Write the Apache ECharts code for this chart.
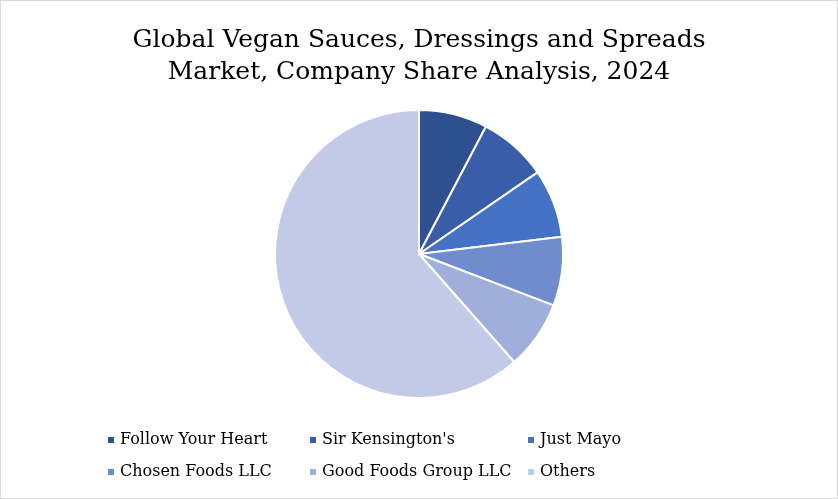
<!DOCTYPE html>
<html>
<head>
<meta charset="utf-8">
<script src="https://cdn.jsdelivr.net/npm/echarts@6/dist/echarts.min.js"></script>
<style>
html, body { margin: 0; padding: 0; background: #fff; }
#main { width: 836px; height: 497px; border: 1px solid #d9d9d9; }
</style>
</head>
<body>
<div id="main"></div>
<script>
var companies = ['Follow Your Heart', "Sir Kensington's", 'Just Mayo', 'Chosen Foods LLC', 'Good Foods Group LLC', 'Others'];
var shares = [7.7, 7.7, 7.7, 7.7, 7.7, 61.5];
var colors = ['#2F5090', '#3A5DAA', '#4472C4', '#6F8CCF', '#9FAEDA', '#C1CAE6'];

// legend positions, one legend per item to keep the 3-column grid
var legendPos = [[100, 426], [302, 426], [520, 426], [100, 458], [302, 458], [520, 458]];

var myChart = echarts.init(document.getElementById('main'));
var legends = [];
for (var i = 0; i < companies.length; i++) {
	legends.push({
		data: [companies[i]],
		left: legendPos[i][0],
		top: legendPos[i][1],
		icon: 'rect',
		itemWidth: 8,
		itemHeight: 8,
		itemGap: 5,
		textStyle: { fontFamily: 'DejaVu Serif', fontSize: 16, color: '#000' }
	});
}
var data = [];
for (var j = 0; j < companies.length; j++) {
	data.push({ name: companies[j], value: shares[j], itemStyle: { color: colors[j] } });
}
var option = {
	title: {
		text: 'Global Vegan Sauces, Dressings and Spreads\nMarket, Company Share Analysis, 2024',
		left: 'center',
		top: 18,
		textStyle: { fontFamily: 'DejaVu Serif', fontSize: 25, fontWeight: 'normal', color: '#000', lineHeight: 32 }
	},
	legend: legends,
	series: [{
		type: 'pie',
		center: [418, 253],
		radius: 144,
		startAngle: 90,
		clockwise: true,
		label: { show: false },
		labelLine: { show: false },
		emphasis: { disabled: true },
		itemStyle: { borderColor: '#fff', borderWidth: 2 },
		data: data
	}]
};
myChart.setOption(option);
</script>
</body>
</html>
